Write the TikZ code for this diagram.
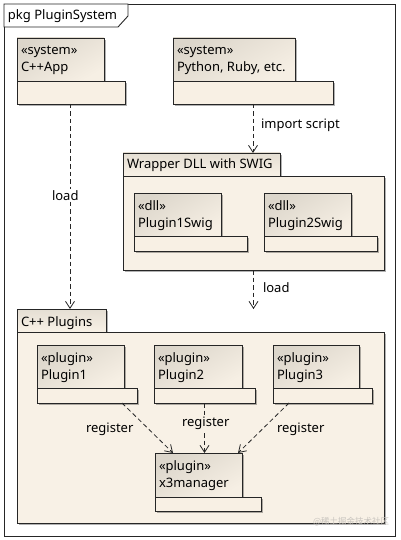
\documentclass[tikz,border=0pt]{standalone}
\usepackage{fontspec}
\setmainfont{Noto Sans}
\newfontfamily\cjk{Noto Sans CJK SC}
\usetikzlibrary{arrows.meta,shadows,calc}
\definecolor{bodyc}{HTML}{F8F0E4}
\definecolor{headtop}{HTML}{DCD6CB}
\definecolor{headbot}{HTML}{F6EFE4}
\definecolor{pkgc}{HTML}{F8F1E6}
\definecolor{linec}{HTML}{262626}
\definecolor{wmark}{HTML}{C8C4BE}
\tikzset{
  box/.style={draw=linec, line width=0.9pt, anchor=north west, inner sep=0pt, outer sep=0pt,
    drop shadow={shadow xshift=1.6pt, shadow yshift=-1.6pt, opacity=0.3, fill=black}},
  headbox/.style={box, top color=headtop, bottom color=headbot, shading angle=30},
  bodybox/.style={box, fill=bodyc},
  pkgbox/.style={box, fill=pkgc},
  tabbox/.style={box, top color=headtop!70!pkgc, bottom color=pkgc},
  txt/.style={anchor=base west, inner sep=0pt, outer sep=0pt, font=\fontsize{13}{15}\selectfont, text=black},
  lbl/.style={txt, inner sep=1pt},
  dep/.style={draw=linec, line width=0.8pt, dashed, dash pattern=on 4.5pt off 3pt, -{Straight Barb[length=7pt,width=9pt]}},
}
\newcommand{\Comp}[9]{%
  % #1 name, #2 x, #3 y, #4 head w, #5 body w, #6 stereotype, #7 label, #8 head h, #9 body h
  \node[headbox, minimum width=#4pt, minimum height=#8pt] (#1-h) at (#2,#3) {};
  \node[bodybox, minimum width=#5pt, minimum height=#9pt] (#1-b) at (#1-h.south west) {};
  \node[txt] (#1-s) at ($(#1-h.north west)+(4pt,-17pt)$) {#6};
  \node[txt] (#1-n) at ($(#1-h.north west)+(4pt,-34pt)$) {#7};
}
\begin{document}
\begin{tikzpicture}[x=1pt,y=-1pt]
\useasboundingbox (0,0) rectangle (400,540);
\fill[white] (0,0) rectangle (400,540);
% outer frame
\node[draw=linec, line width=0.9pt, fill=white, anchor=north west, inner sep=0pt, minimum width=391pt, minimum height=532pt] (frame) at (4,4) {};
\draw[draw=linec, line width=0.9pt, fill=white] (4,4) -- (128,4) -- (128,16) -- (118,27) -- (4,27) -- cycle;
\node[txt] (frametitle) at (8,20) {pkg PluginSystem};

% components top
\Comp{app}{17}{38}{87}{108}{«system»}{C++App}{43}{23}
\Comp{py}{173}{38}{122}{160}{«system»}{Python, Ruby, etc.}{43}{23}

% Wrapper package
\node[tabbox, minimum width=157pt, minimum height=23pt] (wraptab) at (123,153) {};
\node[pkgbox, minimum width=261pt, minimum height=94pt] (wrap) at (123,176) {};
\node[txt] (wraptitle) at (127,168) {Wrapper DLL with SWIG};
\Comp{s1}{134}{193}{87}{113}{«dll»}{Plugin1Swig}{43}{15}
\Comp{s2}{264}{193}{87}{113}{«dll»}{Plugin2Swig}{43}{15}

% C++ Plugins package
\node[tabbox, minimum width=89pt, minimum height=23pt] (plugtab) at (17,309) {};
\node[pkgbox, minimum width=367pt, minimum height=191pt] (plug) at (17,332) {};
\node[txt] (plugtitle) at (21,326) {C++ Plugins};
\Comp{p1}{37}{345}{87}{100}{«plugin»}{Plugin1}{43}{15}
\Comp{p2}{154}{345}{88}{101}{«plugin»}{Plugin2}{43}{15}
\Comp{p3}{273}{345}{86}{99}{«plugin»}{Plugin3}{43}{15}
\Comp{x3}{155}{453}{87}{106}{«plugin»}{x3manager}{44}{14}

% connectors
\draw[dep] ([xshift=-1pt]app-b.south) -- ([xshift=-1pt]app-b.south |- plugtab.north);
\node[lbl, fill=white] (l1) at (51,200) {load};

\draw[dep] (py-b.south) -- (py-b.south |- wraptab.north);
\node[lbl] (l2) at (260,129) {import script};

\draw[dep] (wrap.south) -- (wrap.south |- plugtab.north);
\node[lbl] (l3) at (262,292) {load};

\draw[dep] ([xshift=-15pt]p1-b.south east) -- ([xshift=18pt]x3-h.north west);
\draw[dep] (p2-b.south) -- (p2-b.south |- x3-h.north);
\draw[dep] ([xshift=16pt]p3-b.south west) -- ([xshift=-4pt]x3-h.north east);
\node[lbl] (r1) at (85,432) {register};
\node[lbl, fill=pkgc] (r2) at (181,426) {register};
\node[lbl] (r3) at (276,432) {register};

\node[anchor=base west, inner sep=0pt, text=wmark, font=\cjk\fontsize{8.5}{9}\selectfont] (wm) at (313,524) {@稀土掘金技术社区};
\end{tikzpicture}
\end{document}
